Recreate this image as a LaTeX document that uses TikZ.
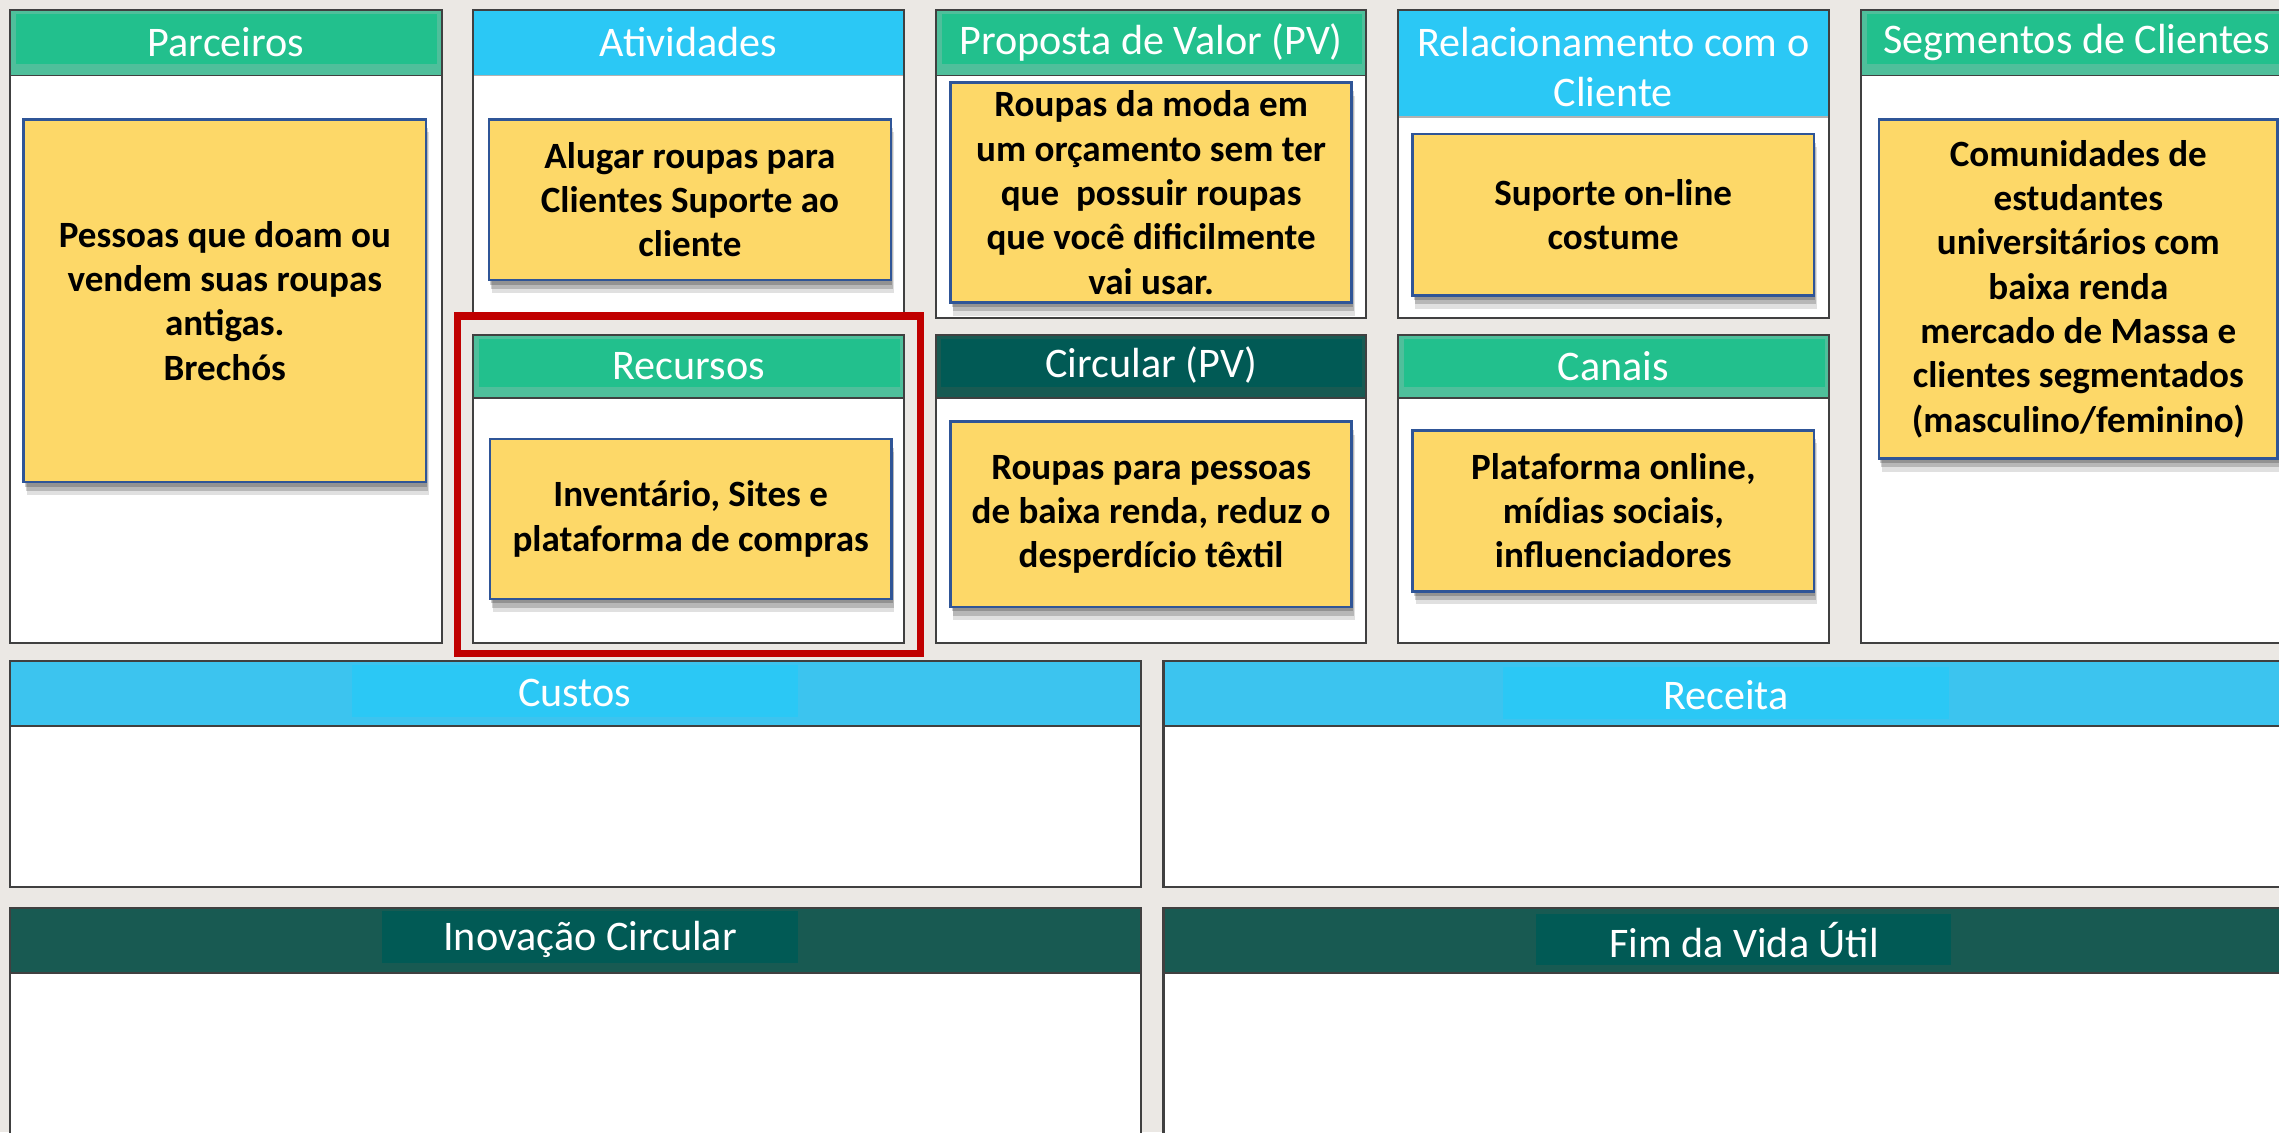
\documentclass[tikz,border=0pt]{standalone}
\usepackage{fontspec}
\setmainfont{Carlito}
\usetikzlibrary{shadows}

\definecolor{bgpaper}{HTML}{EBE8E4}
\definecolor{hdgreen}{HTML}{22C08D}
\definecolor{hdgreenlt}{HTML}{4FBF9B}
\definecolor{hdblue}{HTML}{2BC8F5}
\definecolor{hdbluelt}{HTML}{3CC4EF}
\definecolor{hdteal}{HTML}{015A55}
\definecolor{hdtealdk}{HTML}{185A52}
\definecolor{cardfill}{HTML}{FDD868}
\definecolor{cardline}{HTML}{2F5597}
\definecolor{framered}{HTML}{C00000}
\definecolor{paneline}{HTML}{404040}

\tikzset{
  panel/.style={draw=paneline, line width=1.6pt},
  card/.style={draw=cardline, line width=1.8pt, fill=cardfill, align=center, inner sep=0pt,
    font=\bfseries\fontsize{25.5}{30.5}\selectfont,
    drop shadow={shadow xshift=2pt, shadow yshift=-9pt, opacity=.12, fill=black},
    drop shadow={shadow xshift=1.5pt, shadow yshift=-6pt, opacity=.18, fill=black},
    drop shadow={shadow xshift=1pt, shadow yshift=-3pt, opacity=.2, fill=black}},
  title/.style={text=white, align=center, inner sep=0pt, font=\fontsize{29}{34.8}\selectfont},
  hdline/.style={draw=paneline, line width=1.2pt},
  hdlinelt/.style={draw=gray!60, line width=1.2pt},
}

\begin{document}
\begin{tikzpicture}[x=1pt, y=-1pt]

    \clip (0,0) rectangle (1568,779);
    \fill[bgpaper] (0,0) rectangle (1568,779);

    % panels
    \fill[white] (7,7) rectangle (304,442.4);
    \fill[white] (325.5,7) rectangle (622,219);
    \fill[white] (644,7) rectangle (940,219);
    \fill[white] (962,7) rectangle (1258.5,219);
    \fill[white] (1280.5,7) rectangle (1600,442.4);
    \fill[white] (325.5,230.5) rectangle (622,442.4);
    \fill[white] (644,230.5) rectangle (940,442.4);
    \fill[white] (962,230.5) rectangle (1258.5,442.4);
    \fill[white] (7,454.6) rectangle (785,610.4);
    \fill[white] (800.4,454.6) rectangle (1600,610.4);
    \fill[white] (7,624.6) rectangle (785,800);
    \fill[white] (800.4,624.6) rectangle (1600,800);

    % headers, green
    \fill[hdgreenlt] (7,7) rectangle (304,52);
    \fill[hdgreen] (11,9.5) rectangle (301,44);
    \fill[hdgreenlt] (644,7) rectangle (940,52);
    \fill[hdgreen] (648,9.5) rectangle (937,44);
    \fill[hdgreenlt] (1280.5,7) rectangle (1600,52);
    \fill[hdgreen] (1284.5,9.5) rectangle (1600,44);
    \fill[hdgreenlt] (325.5,230.5) rectangle (622,274);
    \fill[hdgreen] (329.5,233) rectangle (619,266);
    \fill[hdgreenlt] (962,230.5) rectangle (1258.5,274);
    \fill[hdgreen] (966,233) rectangle (1255.5,266);

    % headers, blue
    \fill[hdblue] (325.5,7) rectangle (622,52);
    \fill[hdblue] (962,7) rectangle (1258.5,80.7);
    \fill[hdbluelt] (7,454.6) rectangle (785,499.6);
    \fill[hdblue] (242,457.7) rectangle (549,493.5);
    \fill[hdbluelt] (800.4,454.6) rectangle (1600,499.6);
    \fill[hdblue] (1034,459) rectangle (1341,495);

    % headers, teal
    \fill[hdtealdk] (644,230.5) rectangle (940,274);
    \fill[hdteal] (647.5,233) rectangle (937,266);
    \fill[hdtealdk] (7,624.6) rectangle (785,669.6);
    \fill[hdteal] (263,627) rectangle (549,662.7);
    \fill[hdtealdk] (800.4,624.6) rectangle (1600,669.6);
    \fill[hdteal] (1057,628.5) rectangle (1342.6,664);

    % header lines
    \draw[hdline] (7,52) -- (304,52);
    \draw[hdlinelt] (325.5,52) -- (622,52);
    \draw[hdline] (644,52) -- (940,52);
    \draw[hdlinelt] (962,80.7) -- (1258.5,80.7);
    \draw[hdline] (1280.5,52) -- (1600,52);
    \draw[hdline] (325.5,274) -- (622,274);
    \draw[hdline] (644,274) -- (940,274);
    \draw[hdline] (962,274) -- (1258.5,274);
    \draw[hdline] (7,499.6) -- (785,499.6);
    \draw[hdline] (800.4,499.6) -- (1600,499.6);
    \draw[hdline] (7,669.6) -- (785,669.6);
    \draw[hdline] (800.4,669.6) -- (1600,669.6);

    \draw[panel] (7,7) rectangle (304,442.4);
    \draw[panel] (325.5,7) rectangle (622,219);
    \draw[panel] (644,7) rectangle (940,219);
    \draw[panel] (962,7) rectangle (1258.5,219);
    \draw[panel] (1280.5,7) rectangle (1600,442.4);
    \draw[panel] (325.5,230.5) rectangle (622,442.4);
    \draw[panel] (644,230.5) rectangle (940,442.4);
    \draw[panel] (962,230.5) rectangle (1258.5,442.4);
    \draw[panel] (7,454.6) rectangle (785,610.4);
    \draw[panel] (800.4,454.6) rectangle (1600,610.4);
    \draw[panel] (7,624.6) rectangle (785,800);
    \draw[panel] (800.4,624.6) rectangle (1600,800);

    % titles
    \node[title] (tparc) at (155.5,29) {Parceiros};
    \node[title] (tativ) at (473.75,29) {Atividades};
    \node[title] (tprop) at (792,29) {Proposta de Valor (PV)};
    \node[title] (trel) at (1110,46) {Relacionamento com o\\Cliente};
    \node[title] (tseg) at (1429,29) {Segmentos de Clientes};
    \node[title] (trec) at (473.75,252) {Recursos};
    \node[title] (tcirc) at (792,251) {Circular (PV)};
    \node[title] (tcan) at (1110,252) {Canais};
    \node[title] (tcust) at (395.5,477) {Custos};
    \node[title] (treceita) at (1187.5,478) {Receita};
    \node[title] (tinov) at (406,646.5) {Inovação Circular};
    \node[title] (tfim) at (1200,647) {Fim da Vida Útil};

    % cards
    \node[card, minimum width=276.7, minimum height=249.7] (parc) at (154.7,206.9)
        {Pessoas que doam ou\\vendem suas roupas\\antigas.\\Brechós};
    \node[card, minimum width=276.6, minimum height=110.7] (ativ) at (474.7,137.4)
        {Alugar roupas para\\Clientes Suporte ao\\cliente};
    \node[card, minimum width=276, minimum height=151.4] (prop) at (792,132.6)
        {Roupas da moda em\\um orçamento sem ter\\que~ possuir roupas\\que você dificilmente\\vai usar.};
    \node[card, minimum width=276.2, minimum height=111.2] (rel) at (1109.9,147.8)
        {Suporte on-line\\costume};
    \node[card, minimum width=274.3, minimum height=233.5] (seg) at (1429.9,198.8)
        {Comunidades de\\estudantes\\universitários com\\baixa renda\\mercado de Massa e\\clientes segmentados\\(masculino/feminino)};
    \node[card, minimum width=276.4, minimum height=110] (rec) at (475.2,357)
        {Inventário, Sites e\\plataforma de compras};
    \node[card, minimum width=276, minimum height=127.5] (circ) at (792,353.8)
        {Roupas para pessoas\\de baixa renda, reduz o\\desperdício têxtil};
    \node[card, minimum width=276, minimum height=110.7] (can) at (1110,351.4)
        {Plataforma online,\\mídias sociais,\\influenciadores};

    \draw[framered, line width=5pt] (315,217.5) rectangle (633.5,449.5);

\end{tikzpicture}
\end{document}
